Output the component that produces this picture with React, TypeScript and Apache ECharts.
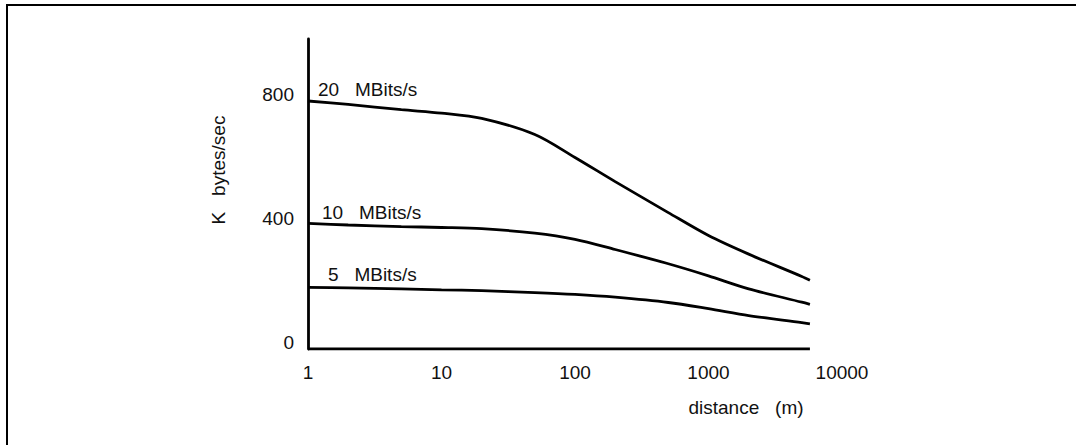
import React, { useEffect, useRef } from "react";
import * as echarts from "echarts";

const distances = [1, 2, 5, 10, 20, 50, 100, 200, 500, 1000, 2000, 5000, 5750];
const rate20 = [800, 789, 772, 761, 744, 692, 618, 540, 440, 366, 306, 234, 222];
const rate10 = [405, 400, 395, 392, 388, 374, 354, 321, 275, 236, 194, 151, 144];
const rate5 = [199, 197, 194, 191, 188, 182, 176, 167, 150, 130, 108, 85, 81];
const seriesNames = ["20   MBits/s", "10   MBits/s", "5   MBits/s"];
const yTicks = [0, 400, 800];
const xTicks = [1, 10, 100, 1000, 10000];
const yAxisTitle = "K   bytes/sec";
const xAxisTitle = "distance   (m)";

const FONT = "'Liberation Sans', Arial, Helvetica, sans-serif";
const FS = 19;
const labelOffsets = [
  [10, -12],
  [14, -11],
  [20, -13],
];

export default function App() {
  const ref = useRef<HTMLDivElement>(null);
  useEffect(() => {
    if (!ref.current) return;
    const chart = echarts.init(ref.current, undefined, { renderer: "svg" });
    const allRates = [rate20, rate10, rate5];
    const lineSeries = allRates.map((r, i) => ({
      name: seriesNames[i],
      type: "line",
      smooth: 0.3,
      showSymbol: false,
      symbol: "none",
      data: distances.map((d, j) => [d, r[j]]),
      lineStyle: { color: "#000", width: 2.8 },
      z: 3,
    }));
    const baseline = {
      name: "baseline",
      type: "line",
      symbol: "none",
      data: [
        [distances[0], 0],
        [distances[distances.length - 1], 0],
      ],
      lineStyle: { color: "#000", width: 3 },
      z: 4,
    };
    chart.setOption({
      animation: false,
      backgroundColor: "#fff",
      grid: { left: 308, right: 234, top: 39, bottom: 96, containLabel: false },
      xAxis: {
        type: "log",
        logBase: 10,
        min: xTicks[0],
        max: xTicks[xTicks.length - 1],
        axisLine: { show: false },
        axisTick: { show: false },
        splitLine: { show: false },
        axisLabel: {
          color: "#111",
          fontSize: FS,
          fontFamily: FONT,
          margin: 14,
          formatter: (v: number) => String(Math.round(v)),
        },
      },
      yAxis: {
        type: "value",
        min: 0,
        max: 1000,
        interval: 400,
        axisLine: { show: true, lineStyle: { color: "#000", width: 2.8 } },
        axisTick: { show: false },
        splitLine: { show: false },
        axisLabel: {
          color: "#111",
          fontSize: FS,
          fontFamily: FONT,
          margin: 14,
          verticalAlign: "bottom",
          lineHeight: 14,
          formatter: (v: number) => (yTicks.includes(v) ? String(v) : ""),
        },
      },
      series: [...lineSeries, baseline],
    });

    const texts: any[] = allRates.map((r, i) => {
      const p = chart.convertToPixel({ gridIndex: 0 }, [distances[0], r[0]]) as number[];
      return {
        type: "text",
        x: p[0] + labelOffsets[i][0],
        y: p[1] + labelOffsets[i][1],
        style: {
          text: seriesNames[i],
          fill: "#111",
          font: `${FS}px ${FONT}`,
          align: "left",
          verticalAlign: "middle",
        },
      };
    });
    chart.setOption({
      graphic: [
        {
          type: "polyline",
          shape: { points: [[7, 445], [7, 5], [1076, 5]] },
          style: { stroke: "#000", lineWidth: 2, fill: null },
        },
        {
          type: "text",
          x: 218,
          y: 170,
          rotation: Math.PI / 2,
          style: {
            text: yAxisTitle,
            fill: "#111",
            font: `${FS}px ${FONT}`,
            align: "center",
            verticalAlign: "middle",
          },
        },
        {
          type: "text",
          x: 746,
          y: 407,
          style: {
            text: xAxisTitle,
            fill: "#111",
            font: `${FS}px ${FONT}`,
            align: "center",
            verticalAlign: "middle",
          },
        },
        ...texts,
      ],
    });
    return () => chart.dispose();
  }, []);
  return (
    <div
      ref={ref}
      style={{ position: "fixed", left: 0, top: 0, width: 1076, height: 445 }}
    />
  );
}
